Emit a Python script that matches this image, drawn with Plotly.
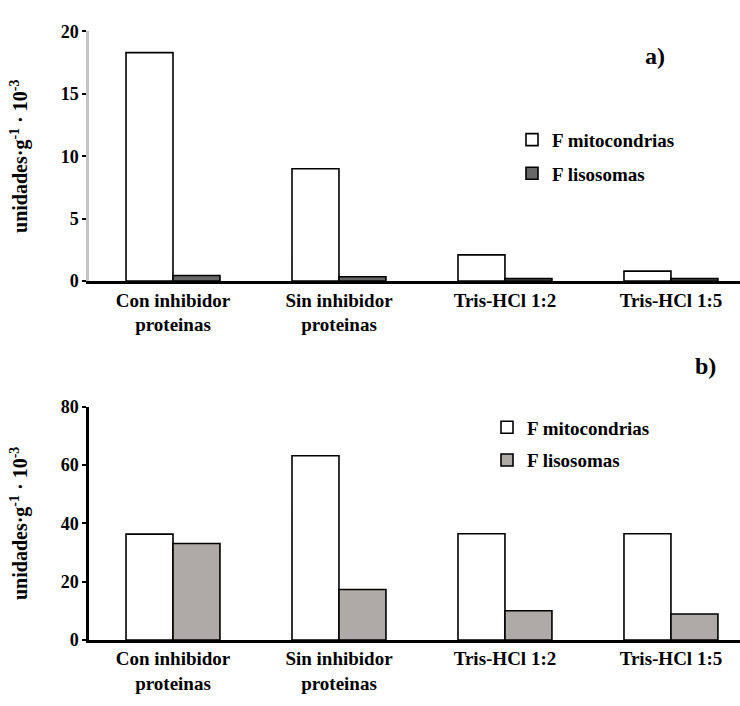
import plotly.graph_objects as go

categorias = ["Con inhibidor<br>proteinas", "Sin inhibidor<br>proteinas",
              "Tris-HCl 1:2", "Tris-HCl 1:5"]

# a) valores
a_mitocondrias = [18.3, 9.0, 2.1, 0.8]
a_lisosomas = [0.45, 0.35, 0.2, 0.2]
a_ticks = [0, 5, 10, 15, 20]

# b) valores
b_mitocondrias = [36.3, 63.2, 36.4, 36.4]
b_lisosomas = [33.1, 17.3, 10.0, 8.9]
b_ticks = [0, 20, 40, 60, 80]

serie_nombres = ["F mitocondrias", "F lisosomas"]

FONT = "Liberation Serif, Times New Roman, serif"
W, H = 740, 706


def b(s):
    return f"<b>{s}</b>"


def fnt(size):
    return dict(family=FONT, size=size, color="black")


fig = go.Figure()

line = dict(color="black", width=1.6)
fig.add_trace(go.Bar(x=categorias, y=a_mitocondrias, name=b(serie_nombres[0]),
                     marker=dict(color="white", line=line),
                     xaxis="x", yaxis="y", legend="legend", legendgroup="a1"))
fig.add_trace(go.Bar(x=categorias, y=a_lisosomas, name=b(serie_nombres[1]),
                     marker=dict(color="#676767", line=line),
                     xaxis="x", yaxis="y", legend="legend", legendgroup="a2"))
fig.add_trace(go.Bar(x=categorias, y=b_mitocondrias, name=b(serie_nombres[0]),
                     marker=dict(color="white", line=line),
                     xaxis="x2", yaxis="y2", legend="legend2", legendgroup="b1"))
fig.add_trace(go.Bar(x=categorias, y=b_lisosomas, name=b(serie_nombres[1]),
                     marker=dict(color="#aeaaa8", line=line),
                     xaxis="x2", yaxis="y2", legend="legend2", legendgroup="b2"))


def ydom(top_px, bot_px):
    return [1 - bot_px / H, 1 - top_px / H]


xr = [-0.506, 3.416]
ytitle = b("unidades·g<sup>-1</sup> · 10<sup>-3</sup>")

xcommon = dict(range=xr, showline=True, linecolor="black", linewidth=2.5,
               ticks="", showgrid=False, zeroline=False,
               tickvals=categorias, ticktext=[b(c) for c in categorias],
               tickfont=fnt(19))
ycommon = dict(ticks="outside", ticklen=4, tickwidth=2, tickcolor="black",
               tickfont=fnt(18), showgrid=False, zeroline=False,
               linewidth=2.5, showline=True,
               title=dict(text=ytitle, standoff=28, font=fnt(20)))

fig.update_layout(
    font=fnt(18),
    width=W, height=H,
    margin=dict(l=89, r=0, t=0, b=0),
    paper_bgcolor="white", plot_bgcolor="white",
    barmode="group", bargap=0.434, bargroupgap=0,
    xaxis=dict(**xcommon, domain=[0, 1], anchor="y"),
    yaxis=dict(**ycommon, domain=ydom(22, 279), range=[0, 20],
               tickvals=a_ticks, ticktext=[b(t) for t in a_ticks],
               linecolor="#c4c4c4", anchor="x"),
    xaxis2=dict(**xcommon, domain=[0, 1], anchor="y2"),
    yaxis2=dict(**ycommon, domain=ydom(408.3, 648.3), range=[0, 80],
                tickvals=b_ticks, ticktext=[b(t) for t in b_ticks],
                linecolor="black", anchor="x2"),
    legend=dict(x=(512 - 89) / 651, xanchor="left", y=1 - 114 / H, yanchor="top",
                bgcolor="rgba(0,0,0,0)", tracegroupgap=6, traceorder="grouped",
                font=fnt(19)),
    legend2=dict(x=(487 - 89) / 651, xanchor="left", y=1 - 410 / H, yanchor="top",
                 bgcolor="rgba(0,0,0,0)", tracegroupgap=5, traceorder="grouped",
                 font=fnt(19)),
    annotations=[
        dict(text=b("a)"), xref="paper", yref="paper", x=(667 - 89) / 651, y=1 - 32 / H,
             showarrow=False, font=fnt(24)),
        dict(text=b("b)"), xref="paper", yref="paper", x=(718 - 89) / 651, y=1 - 366 / H,
             showarrow=False, font=fnt(24)),
    ],
)

fig.write_html("out.html")
